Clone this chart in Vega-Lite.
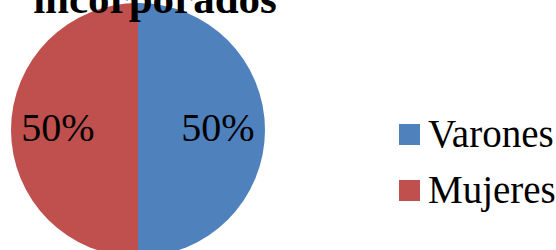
{
  "$schema": "https://vega.github.io/schema/vega-lite/v6.json",
  "width": 276,
  "height": 260,
  "autosize": "none",
  "padding": {"left": 0, "top": 0, "right": 280, "bottom": 0},
  "background": "white",
  "config": {"view": {"stroke": null}},
  "title": {"text": "incorporados", "font": "Times New Roman, Liberation Serif, serif", "fontSize": 43, "fontWeight": "bold", "color": "black", "anchor": "middle", "baseline": "alphabetic", "orient": "bottom", "offset": -260, "dy": 13, "dx": 17},
  "data": {"values": [
    {"sexo": "Varones", "valor": 50, "orden": 1, "etiqueta": "50%"},
    {"sexo": "Mujeres", "valor": 50, "orden": 2, "etiqueta": "50%"}
  ]},
  "encoding": {
    "theta": {"field": "valor", "type": "quantitative", "stack": true},
    "order": {"field": "orden", "type": "quantitative"}
  },
  "layer": [
    {"mark": {"type": "arc", "outerRadius": 127},
     "encoding": {
      "color": {"field": "sexo", "type": "nominal", "sort": ["Varones", "Mujeres"],
        "scale": {"domain": ["Varones", "Mujeres"], "range": ["#4F81BD", "#C0504D"]},
        "legend": {"title": null, "orient": "none", "legendX": 390, "legendY": 115, "symbolType": "square", "symbolSize": 441, "symbolStrokeWidth": 0, "labelFont": "Liberation Serif", "labelFontSize": 39, "labelColor": "black", "rowPadding": 16, "labelOffset": -1, "labelLimit": 300}
      }
     }},
    {"mark": {"type": "text", "radius": 80, "font": "Liberation Serif", "fontSize": 40, "color": "black", "dy": -1},
     "encoding": {"text": {"field": "etiqueta"}}}
  ]
}
